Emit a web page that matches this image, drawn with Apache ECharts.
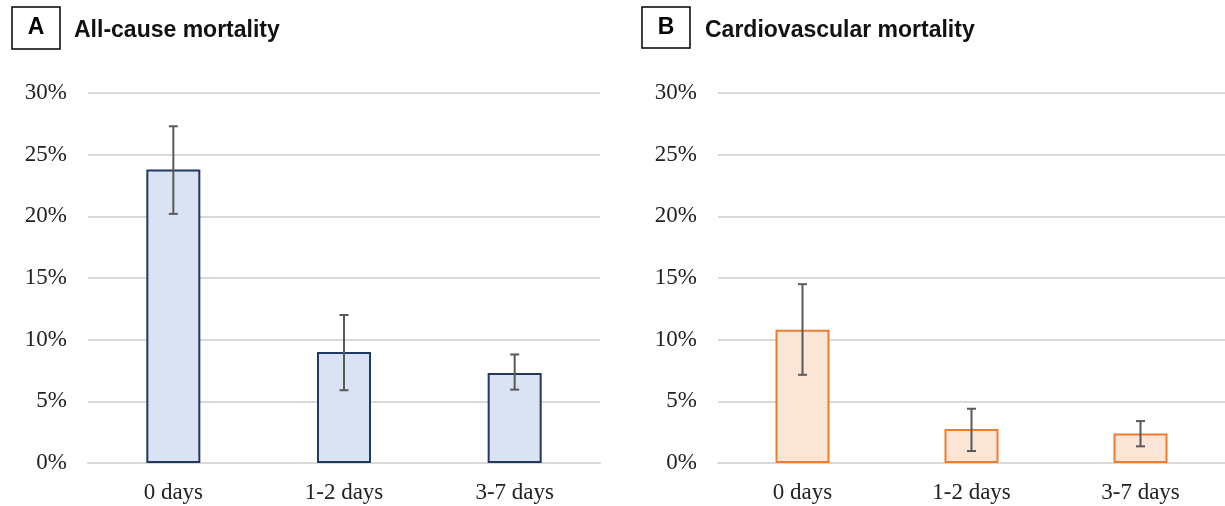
<!DOCTYPE html>
<html>
<head>
<meta charset="utf-8">
<script src="https://cdn.jsdelivr.net/npm/echarts@6/dist/echarts.min.js"></script>
<style>
html,body{margin:0;padding:0;background:#fff;}
#c{width:1225px;height:506px;}
</style>
</head>
<body>
<div id="c"></div>
<script>
const categories = ['0 days', '1-2 days', '3-7 days'];
const allCause = [23.8, 9.0, 7.3];
const allCauseLow = [20.2, 5.9, 5.95];
const allCauseHigh = [27.3, 12.0, 8.8];
const cardio = [10.8, 2.75, 2.4];
const cardioLow = [7.15, 0.97, 1.35];
const cardioHigh = [14.5, 4.4, 3.4];
const yTicks = [0, 5, 10, 15, 20, 25, 30];
const titleA = 'All-cause mortality';
const titleB = 'Cardiovascular mortality';

const chart = echarts.init(document.getElementById('c'), null, {renderer: 'canvas'});

function errData(low, high) {
  return categories.map((c, i) => [i, low[i], high[i]]);
}
function errRender(params, api) {
  const x = api.value(0);
  const lo = api.coord([x, api.value(1)]);
  const hi = api.coord([x, api.value(2)]);
  const cap = 4.5;
  const style = {stroke: '#595959', lineWidth: 2, fill: null};
  return {
    type: 'group',
    children: [
      {type: 'line', shape: {x1: lo[0], y1: lo[1], x2: hi[0], y2: hi[1]}, style: style},
      {type: 'line', shape: {x1: hi[0] - cap, y1: hi[1], x2: hi[0] + cap, y2: hi[1]}, style: style},
      {type: 'line', shape: {x1: lo[0] - cap, y1: lo[1], x2: lo[0] + cap, y2: lo[1]}, style: style}
    ]
  };
}

const serif = 'Liberation Serif, Times New Roman, serif';
const sans = 'Liberation Sans, Arial, sans-serif';

function xAxis(gi) {
  return {
    type: 'category', gridIndex: gi, data: categories,
    axisLine: {show: true, lineStyle: {color: '#D9D9D9', width: 2}},
    axisTick: {show: false},
    axisLabel: {color: '#222', fontFamily: serif, fontSize: 23, margin: 18}
  };
}
function yAxis(gi) {
  return {
    type: 'value', gridIndex: gi, min: 0, max: 30, interval: 5,
    axisLine: {show: false}, axisTick: {show: false},
    splitLine: {lineStyle: {color: '#D9D9D9', width: 2}},
    axisLabel: {color: '#222', fontFamily: serif, fontSize: 23, margin: 21,
      formatter: v => yTicks.includes(v) ? v + '%' : ''}
  };
}

chart.setOption({
  animation: false,
  backgroundColor: '#fff',
  title: [
    {text: titleA, left: 69, top: 14, textStyle: {fontFamily: sans, fontWeight: 'bold', fontSize: 23, color: '#111'}},
    {text: titleB, left: 700, top: 14, textStyle: {fontFamily: sans, fontWeight: 'bold', fontSize: 23, color: '#111'}}
  ],
  graphic: [
    {type: 'rect', shape: {x: 12, y: 7, width: 48, height: 42}, style: {fill: '#fff', stroke: '#000', lineWidth: 1.5}},
    {type: 'text', x: 36, y: 28, style: {text: 'A', fontFamily: sans, fontWeight: 'bold', fontSize: 23, fill: '#000', align: 'center', verticalAlign: 'middle'}},
    {type: 'rect', shape: {x: 642, y: 7, width: 48, height: 41}, style: {fill: '#fff', stroke: '#000', lineWidth: 1.5}},
    {type: 'text', x: 666, y: 27.5, style: {text: 'B', fontFamily: sans, fontWeight: 'bold', fontSize: 23, fill: '#000', align: 'center', verticalAlign: 'middle'}}
  ],
  grid: [
    {left: 88, width: 512, top: 93, bottom: 43},
    {left: 718, width: 512, top: 93, bottom: 43}
  ],
  xAxis: [xAxis(0), xAxis(1)],
  yAxis: [yAxis(0), yAxis(1)],
  series: [
    {type: 'bar', xAxisIndex: 0, yAxisIndex: 0, data: allCause, barWidth: 54,
      itemStyle: {color: '#DAE3F3', borderColor: '#203864', borderWidth: 2}},
    {type: 'custom', xAxisIndex: 0, yAxisIndex: 0, data: errData(allCauseLow, allCauseHigh), renderItem: errRender, z: 10},
    {type: 'bar', xAxisIndex: 1, yAxisIndex: 1, data: cardio, barWidth: 54,
      itemStyle: {color: '#FBE5D6', borderColor: '#ED7D31', borderWidth: 2}},
    {type: 'custom', xAxisIndex: 1, yAxisIndex: 1, data: errData(cardioLow, cardioHigh), renderItem: errRender, z: 10}
  ]
});
</script>
</body>
</html>
